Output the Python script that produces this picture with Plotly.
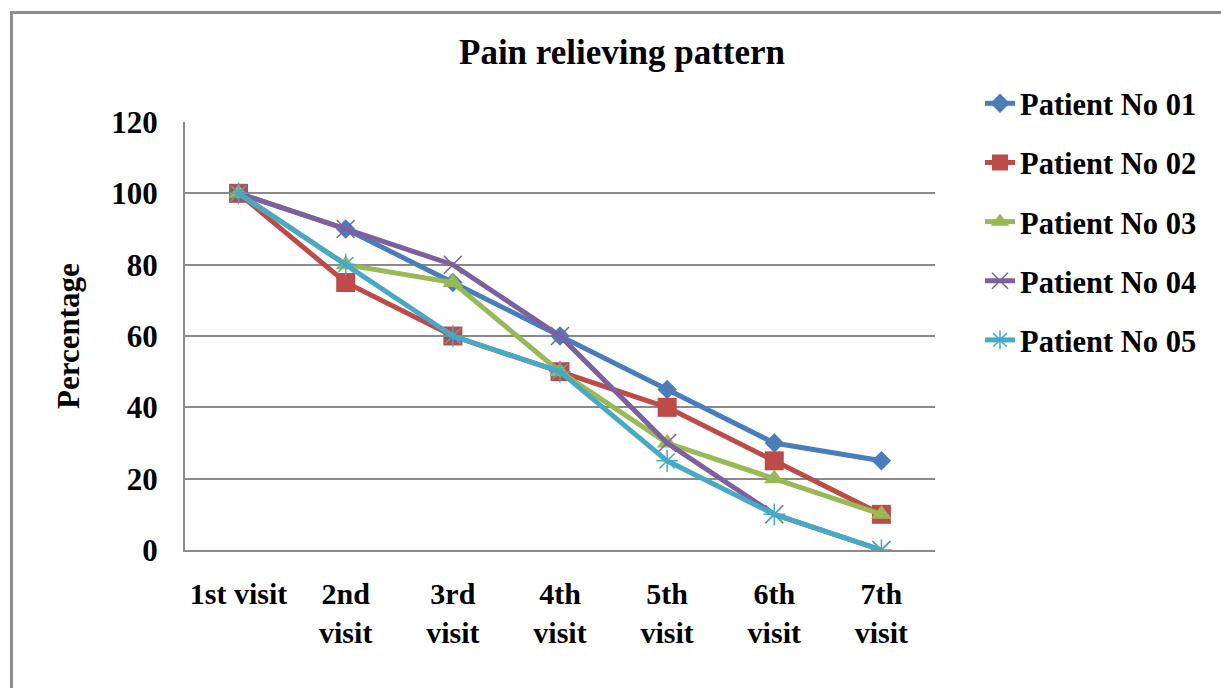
import plotly.graph_objects as go

visits = ["1st visit", "2nd<br>visit", "3rd<br>visit", "4th<br>visit", "5th<br>visit", "6th<br>visit", "7th<br>visit"]
patient_01 = [100, 90, 75, 60, 45, 30, 25]
patient_02 = [100, 75, 60, 50, 40, 25, 10]
patient_03 = [100, 80, 75, 50, 30, 20, 10]
patient_04 = [100, 90, 80, 60, 30, 10, 0]
patient_05 = [100, 80, 60, 50, 25, 10, 0]
series_names = ["Patient No 01", "Patient No 02", "Patient No 03", "Patient No 04", "Patient No 05"]
y_ticks = [0, 20, 40, 60, 80, 100, 120]

FONT = "Liberation Serif"
styles = [
    dict(color="#4A7EBB", symbol="diamond", size=15, mline=0),
    dict(color="#BE4B48", symbol="square", size=19, mline=0),
    dict(color="#98B954", symbol="triangle-up", size=18, mline=0),
    dict(color="#7D60A0", symbol="x-thin", size=18, mline=1.5),
    dict(color="#46AAC5", symbol="asterisk-open", size=18, mline=1.5),
]

fig = go.Figure()
for name, vals, st in zip(series_names, [patient_01, patient_02, patient_03, patient_04, patient_05], styles):
    fig.add_trace(go.Scatter(
        x=visits, y=vals, name="<b>%s</b>" % name, mode="lines+markers", legendgroup=name,
        line=dict(color=st["color"], width=5),
        marker=dict(symbol=st["symbol"], size=st["size"], color=st["color"],
                    line=dict(color=st["color"], width=st["mline"])),
    ))

W, H = 1221, 688
L, R, T, B = 185, 935, 122, 550
pw, ph = R - L, B - T

def px2x(px):
    return (px - L) / pw

def py2y(py):
    return (B - py) / ph

fig.update_layout(
    width=W, height=H,
    margin=dict(l=L, r=W - R, t=T, b=H - B),
    paper_bgcolor="white", plot_bgcolor="white",
    font=dict(family=FONT, size=30, color="black"),
    title=dict(text="<b>Pain relieving pattern</b>", x=px2x(622), xref="paper",
               y=1 - 52 / H, yref="container", xanchor="center", yanchor="middle",
               font=dict(family=FONT, size=35, color="black")),
    showlegend=True,
    legend=dict(x=px2x(980), y=py2y(77), xanchor="left", yanchor="top",
                font=dict(family=FONT, size=30.5, color="black"),
                tracegroupgap=16.5, traceorder="grouped", borderwidth=0,
                bgcolor="rgba(0,0,0,0)"),
    xaxis=dict(type="category", range=[-0.5, 6.5], showgrid=False, zeroline=False,
               showline=True, linecolor="#8a8a8a", linewidth=2,
               ticks="outside", ticklen=16, tickcolor="rgba(0,0,0,0)", tickangle=0,
               tickvals=visits, ticktext=["<b>%s</b>" % v for v in visits],
               tickfont=dict(family=FONT, size=30, color="black")),
    yaxis=dict(range=[0, 120], tickvals=y_ticks, ticktext=["<b>%d</b>" % v for v in y_ticks],
               showgrid=True, gridcolor="#8a8a8a", gridwidth=2,
               zeroline=False, showline=True, linecolor="#8a8a8a", linewidth=2,
               ticks="outside", ticklen=19, tickcolor="rgba(0,0,0,0)",
               tickfont=dict(family=FONT, size=31, color="black")),
)

fig.add_annotation(text="<b>Percentage</b>", textangle=-90, xref="paper", yref="paper",
                   x=px2x(68), y=py2y(336), xanchor="center", yanchor="middle", showarrow=False,
                   font=dict(family=FONT, size=31, color="black"))

fig.add_shape(type="rect", xref="paper", yref="paper",
              x0=px2x(11.5), x1=px2x(1240), y0=py2y(700), y1=py2y(12.5),
              line=dict(color="#8e8e8e", width=3), fillcolor="rgba(0,0,0,0)", layer="below")

fig.write_html("out.html", config={"displayModeBar": False},
               post_script="document.body.style.margin='0';document.body.style.padding='0';")
